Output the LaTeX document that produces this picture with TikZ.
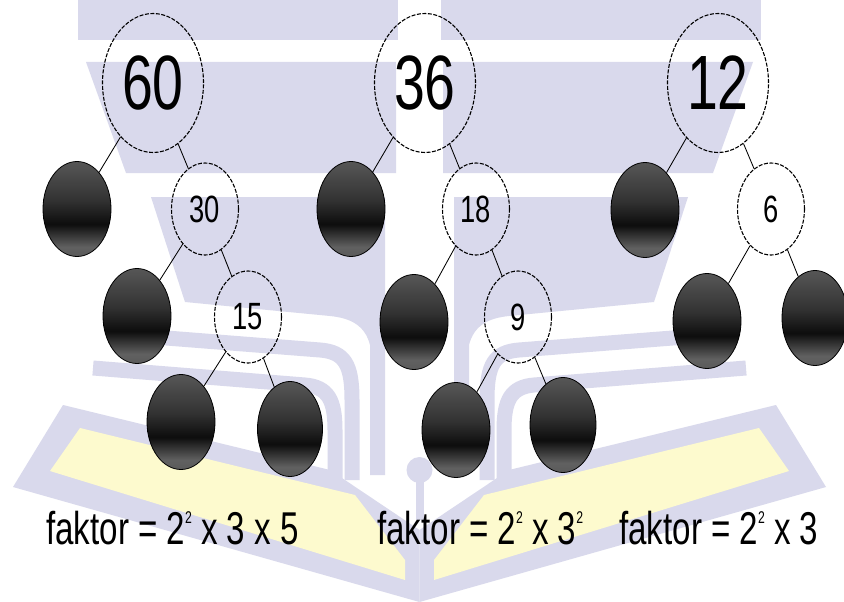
\documentclass[tikz,border=0pt]{standalone}
\usepackage{fontspec}
\usetikzlibrary{shapes.geometric}
\newfontfamily\nar[FakeStretch=0.72]{Liberation Sans}
\definecolor{wm}{RGB}{217,217,236}
\definecolor{wy}{RGB}{253,250,206}
\pgfdeclareverticalshading{blobshade}{100bp}{color(0bp)=(black!88); color(15bp)=(black!70); color(30bp)=(black!62); color(42bp)=(black!95); color(55bp)=(black!80); color(75bp)=(black!66); color(100bp)=(black!85)}
\newcommand\sq[1]{\raisebox{21pt}{\fontsize{17}{17}\selectfont #1}}
\newcommand\wmhalf{%
  \fill[wm] (78,0) rectangle (398,40);
  \fill[wm] (86,62) -- (396,62) -- (396,173) -- (126,173) -- cycle;
  \fill[wm] (151,197) -- (385,197) -- (385,475) -- (370,475) -- (370,345) .. controls (365,325) and (350,318) .. (330,316) -- (185,302) -- cycle;
  \draw[wm, line width=15pt] (128,335) -- (320,350) .. controls (345,352) and (352,365) .. (352,400) -- (352,480);
  \draw[wm, line width=15pt] (93,368) -- (305,385) .. controls (328,387) and (335,400) .. (335,430) -- (335,480);
  \fill[wm] (63,405) -- (330,470) -- (419.5,530) -- (419.5,602) -- (13,487) -- cycle;
  \fill[wy] (80,428) -- (355,495) -- (405,560) -- (405,580) -- (50,471) -- cycle;
}
\begin{document}
\begin{tikzpicture}[x=1pt, y=-1pt,
  wdash/.style={dash pattern=on 4pt off 1.5pt, line width=1.1pt},
  bignode/.style={ellipse, draw, wdash, minimum width=101pt, minimum height=139pt, inner sep=0pt, font=\nar\fontsize{77}{77}\selectfont},
  wnode/.style={ellipse, draw, wdash, minimum width=67pt, minimum height=92pt, inner sep=0pt, font=\nar\fontsize{38}{38}\selectfont},
  bnode/.style={ellipse, draw=black, line width=0.8pt, shading=blobshade, minimum width=68pt, minimum height=95pt, inner sep=0pt},
  conn/.style={line width=0.85pt},
  txt/.style={inner sep=0pt, font=\nar\fontsize{46}{46}\selectfont}]
\useasboundingbox (0,0) rectangle (844,602);
\fill[white] (0,0) rectangle (844,602);
% watermark
\wmhalf
\begin{scope}[shift={(839,0)}, xscale=-1]
\wmhalf
\end{scope}
\fill[wm] (419.5,470) circle (13);
\fill[wm] (415.5,470) rectangle (423.5,520);
% tree 1
\node[bignode] (n60) at (153,83) {60};
\node[bnode] (b1) at (77,209) {};
\node[wnode] (n30) at (205,209) {30};
\node[bnode] (b2) at (137,316) {};
\node[wnode] (n15) at (248,317) {15};
\node[bnode] (b3) at (181,422) {};
\node[bnode, minimum width=65pt] (b4) at (290,429) {};
% tree 2
\node[bignode] (n36) at (425,83) {36};
\node[bnode] (c1) at (351,209) {};
\node[wnode] (n18) at (476,209) {18};
\node[bnode] (c2) at (414,322) {};
\node[wnode] (n9) at (518,317) {9};
\node[bnode] (c3) at (456,430) {};
\node[bnode, minimum width=66pt] (c4) at (563,425) {};
% tree 3
\node[bignode] (n12) at (718,83) {12};
\node[bnode] (d1) at (645,210) {};
\node[wnode] (n6) at (771,209) {6};
\node[bnode] (d2) at (707,321) {};
\node[bnode, minimum width=66pt] (d3) at (815,318) {};
% connectors
\draw[conn] (n60) -- (b1);
\draw[conn] (n60) -- (n30);
\draw[conn] (n30) -- (b2);
\draw[conn] (n30) -- (n15);
\draw[conn] (n15) -- (b3);
\draw[conn] (n15) -- (b4);
\draw[conn] (n36) -- (c1);
\draw[conn] (n36) -- (n18);
\draw[conn] (n18) -- (c2);
\draw[conn] (n18) -- (n9);
\draw[conn] (n9) -- (c3);
\draw[conn] (n9) -- (c4);
\draw[conn] (n12) -- (d1);
\draw[conn] (n12) -- (n6);
\draw[conn] (n6) -- (d2);
\draw[conn] (n6) -- (d3);
% formulas
\node[txt, anchor=base west] (f1) at (46,544) {faktor = 2\sq{2} x 3 x 5};
\node[txt, anchor=base west] (f2) at (377,544) {faktor = 2\sq{2} x 3\sq{2}};
\node[txt, anchor=base west] (f3) at (619,544) {faktor = 2\sq{2} x 3};
\end{tikzpicture}
\end{document}
